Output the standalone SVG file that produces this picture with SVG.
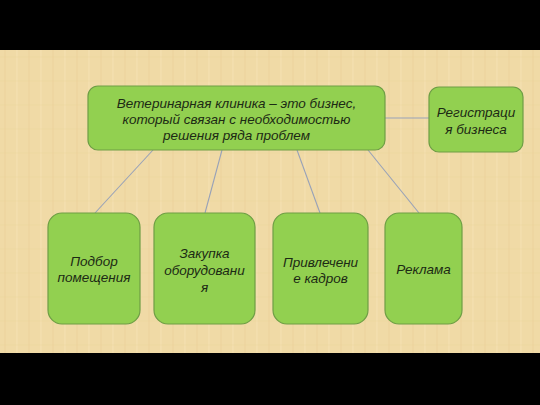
<svg xmlns="http://www.w3.org/2000/svg" width="540" height="405" viewBox="0 0 540 405">
  <defs>
    <style>
      .box { fill: #92D050; stroke: #6E9E45; stroke-width: 1.2; }
      .lbl { font-family: "Liberation Sans", Arial, sans-serif; font-style: italic; font-size: 13.5px; fill: #1C2A14; text-anchor: middle; }
      .conn { stroke: #98A2B8; stroke-width: 1.1; fill: none; }
    </style>
    <pattern id="paper" width="24" height="24" patternUnits="userSpaceOnUse">
      <rect width="24" height="24" fill="#F0DAA6"/>
      <line x1="5" y1="0" x2="5" y2="24" stroke="#E4C78E" stroke-width="0.8" opacity="0.6"/>
      <line x1="17" y1="0" x2="17" y2="24" stroke="#F6E4B8" stroke-width="1" opacity="0.7"/>
      <line x1="0" y1="9" x2="24" y2="9" stroke="#E6CB94" stroke-width="0.6" opacity="0.5"/>
    </pattern>
  </defs>
  <rect x="0" y="0" width="540" height="405" fill="#000000"/>
  <rect x="0" y="50" width="540" height="303" fill="url(#paper)"/>

  <g id="connectors">
    <line class="conn" x1="153" y1="150" x2="95" y2="213"/>
    <line class="conn" x1="222" y1="150" x2="205" y2="213"/>
    <line class="conn" x1="297" y1="150" x2="320" y2="213"/>
    <line class="conn" x1="368" y1="150" x2="419" y2="213"/>
    <line class="conn" x1="385" y1="118" x2="429" y2="118"/>
  </g>

  <g id="main">
    <rect class="box" x="88" y="86" width="297" height="64" rx="10"/>
    <text class="lbl" x="236.5" y="107.5">Ветеринарная клиника – это бизнес,</text>
    <text class="lbl" x="236.5" y="123.5">который связан с необходимостью</text>
    <text class="lbl" x="236.5" y="139.5">решения ряда проблем</text>
  </g>

  <g id="registration">
    <rect class="box" x="429" y="87" width="94" height="65" rx="10"/>
    <text class="lbl" x="476" y="116.5">Регистраци</text>
    <text class="lbl" x="476" y="133.5">я бизнеса</text>
  </g>

  <g id="premises">
    <rect class="box" x="48" y="213" width="92" height="111" rx="14"/>
    <text class="lbl" x="94" y="265.5">Подбор</text>
    <text class="lbl" x="94" y="281.5">помещения</text>
  </g>

  <g id="equipment">
    <rect class="box" x="154" y="213" width="101" height="111" rx="14"/>
    <text class="lbl" x="204.5" y="257.5">Закупка</text>
    <text class="lbl" x="204.5" y="274.5">оборудовани</text>
    <text class="lbl" x="204.5" y="291.5">я</text>
  </g>

  <g id="staff">
    <rect class="box" x="273" y="213" width="95" height="111" rx="14"/>
    <text class="lbl" x="320.5" y="266.5">Привлечени</text>
    <text class="lbl" x="320.5" y="282.5">е кадров</text>
  </g>

  <g id="advertising">
    <rect class="box" x="385" y="213" width="77" height="111" rx="14"/>
    <text class="lbl" x="423.5" y="273.5">Реклама</text>
  </g>
</svg>
